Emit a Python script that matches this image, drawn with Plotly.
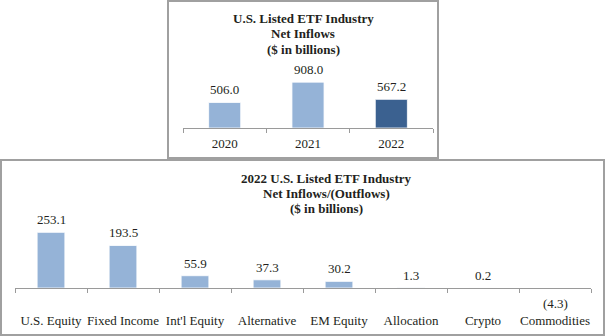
import plotly.graph_objects as go

# Annual net inflows
years = ["2020", "2021", "2022"]
annual_flows = [506.0, 908.0, 567.2]
annual_colors = ["#95B3D7", "#95B3D7", "#3B6190"]

# 2022 flows by asset class
asset_classes = ["U.S. Equity", "Fixed Income", "Int'l Equity", "Alternative",
                 "EM Equity", "Allocation", "Crypto", "Commodities"]
class_flows = [253.1, 193.5, 55.9, 37.3, 30.2, 1.3, 0.2, -4.3]

top_title = ["U.S. Listed ETF Industry", "Net Inflows", "($ in billions)"]
bottom_title = ["2022 U.S. Listed ETF Industry", "Net Inflows/(Outflows)", "($ in billions)"]

W, H = 606, 336
FONT = "'Liberation Serif', 'Times New Roman', serif"
TXT = "#231F20"
LIGHT = "#95B3D7"


def px(x):
    return x / W


def py(y):
    return 1 - y / H


def fmt(v):
    return f"({abs(v):.1f})" if v < 0 else f"{v:.1f}"


fig = go.Figure()

fig.add_trace(go.Bar(x=years, y=annual_flows, marker_color=annual_colors,
                     marker_line_color="white", marker_line_width=0.8,
                     xaxis="x", yaxis="y", showlegend=False, hoverinfo="skip"))
fig.add_trace(go.Bar(x=asset_classes, y=class_flows, marker_color=LIGHT,
                     marker_line_color="white", marker_line_width=0.8,
                     xaxis="x2", yaxis="y2", showlegend=False, hoverinfo="skip"))

# value labels (placed by category index)
annotations = []
for i, v in enumerate(annual_flows):
    annotations.append(dict(x=i, y=v, xref="x", yref="y", text=fmt(v),
                            showarrow=False, yanchor="bottom", yshift=3,
                            font=dict(family=FONT, size=13, color=TXT)))
for i, v in enumerate(class_flows):
    annotations.append(dict(x=i, y=max(v, 0), xref="x2", yref="y2", text=fmt(v),
                            showarrow=False,
                            yanchor="bottom" if v >= 0 else "top",
                            yshift=3 if v >= 0 else -6,
                            font=dict(family=FONT, size=13, color=TXT)))

# chart titles, one annotation per line
for line, y in zip(top_title, [18, 33.5, 49]):
    annotations.append(dict(x=px(303), y=py(y), xref="paper", yref="paper",
                            text=f"<b>{line}</b>", showarrow=False,
                            xanchor="center", yanchor="middle",
                            font=dict(family=FONT, size=13, color=TXT)))
for line, y in zip(bottom_title, [178, 193, 208]):
    annotations.append(dict(x=px(326), y=py(y), xref="paper", yref="paper",
                            text=f"<b>{line}</b>", showarrow=False,
                            xanchor="center", yanchor="middle",
                            font=dict(family=FONT, size=13, color=TXT)))

axis_common = dict(type="category", showgrid=False, zeroline=False, showline=True,
                   linecolor="#9A9A9A", linewidth=1, ticks="outside",
                   tickcolor="#9A9A9A", ticklen=4, tickson="boundaries",
                   tickangle=0, automargin=False,
                   tickfont=dict(family=FONT, size=13, color=TXT),
                   fixedrange=True)

fig.update_layout(
    width=W, height=H,
    margin=dict(l=0, r=0, t=0, b=0, autoexpand=False),
    paper_bgcolor="white", plot_bgcolor="rgba(0,0,0,0)",
    bargap=0.615,
    xaxis=dict(domain=[px(183), px(433)], anchor="free", position=py(128),
               range=[-0.5, len(years) - 0.5],
               ticklabelstandoff=3, **axis_common),
    yaxis=dict(domain=[py(140), py(60)], range=[-12 * 19.8, 68 * 19.8],
               visible=False, fixedrange=True),
    xaxis2=dict(domain=[px(15), px(591)], anchor="free", position=py(288),
                range=[-0.5, len(asset_classes) - 0.5],
                ticklabelstandoff=20, **axis_common),
    yaxis2=dict(domain=[py(300), py(215)], range=[-12 * 4.55, 73 * 4.55],
                visible=False, fixedrange=True),
    annotations=annotations,
    shapes=[
        dict(type="rect", xref="paper", yref="paper",
             x0=px(168), x1=px(438), y0=py(158), y1=py(1),
             line=dict(color="#A0A0A0", width=2)),
        dict(type="rect", xref="paper", yref="paper",
             x0=px(1), x1=px(604), y0=py(335), y1=py(160),
             line=dict(color="#A0A0A0", width=2)),
    ],
)

fig.write_html("out.html")
